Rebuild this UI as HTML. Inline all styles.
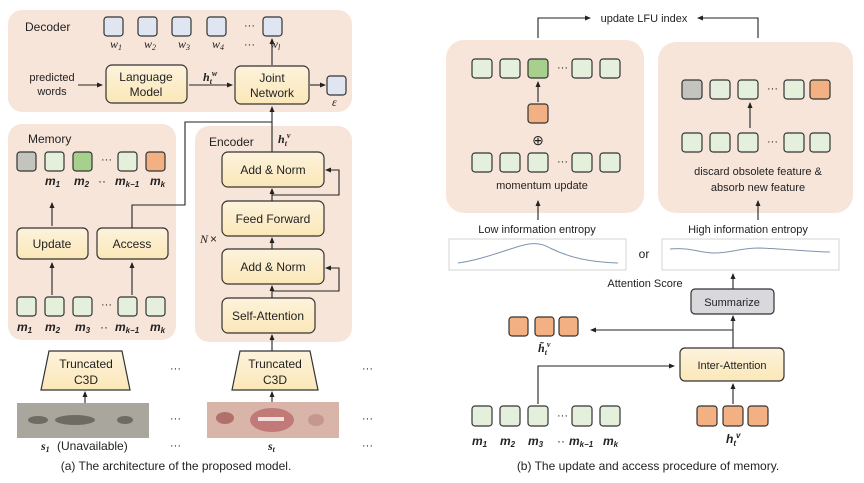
<!DOCTYPE html>
<html><head><meta charset="utf-8"><style>
html,body{margin:0;padding:0;background:#fff}
svg{display:block}
text{font-family:"Liberation Sans",sans-serif;fill:#222}
.s{font-size:11px}
.m{font-size:12px}
.i{font-family:"Liberation Serif",serif;font-style:italic;font-size:12px}
.b{font-family:"Liberation Serif",serif;font-style:italic;font-weight:bold;font-size:12px}
.bx{stroke:#333;stroke-width:1.2}
.ln{stroke:#222;stroke-width:1.1;fill:none}
</style></head><body>
<svg width="864" height="483" viewBox="0 0 864 483" xmlns="http://www.w3.org/2000/svg">
<defs>
<marker id="a" markerWidth="6" markerHeight="6" refX="5" refY="3" orient="auto" markerUnits="userSpaceOnUse"><path d="M0,0.5 L6,3 L0,5.5 z" fill="#222"/></marker>
<linearGradient id="y" x1="0" y1="0" x2="0" y2="1"><stop offset="0" stop-color="#fdf3dc"/><stop offset="1" stop-color="#fbe7b8"/></linearGradient>
</defs>
<!-- panels -->
<rect x="8" y="10" width="344" height="102" rx="14" fill="#f8e5da"/>
<rect x="8" y="124" width="168" height="216" rx="14" fill="#f8e5da"/>
<rect x="195" y="126" width="157" height="216" rx="14" fill="#f8e5da"/>
<rect x="446" y="40" width="198" height="173" rx="18" fill="#f8e5da"/>
<rect x="658" y="42" width="195" height="171" rx="18" fill="#f8e5da"/>

<!-- Decoder -->
<text x="25" y="31" class="m">Decoder</text>
<g fill="#dfe6f1" class="bx">
<rect x="104" y="17" width="19" height="19" rx="3"/><rect x="138" y="17" width="19" height="19" rx="3"/>
<rect x="172" y="17" width="19" height="19" rx="3"/><rect x="207" y="17" width="19" height="19" rx="3"/>
<rect x="263" y="17" width="19" height="19" rx="3"/><rect x="327" y="76" width="19" height="19" rx="3"/>
</g>
<text x="244" y="29" class="s">···</text>
<text x="110" y="48" class="i">w<tspan font-size="8" dy="2">1</tspan></text>
<text x="144" y="48" class="i">w<tspan font-size="8" dy="2">2</tspan></text>
<text x="178" y="48" class="i">w<tspan font-size="8" dy="2">3</tspan></text>
<text x="212" y="48" class="i">w<tspan font-size="8" dy="2">4</tspan></text>
<text x="244" y="48" class="s">···</text>
<text x="270" y="48" class="i">w<tspan font-size="8" dy="2">l</tspan></text>
<text x="332" y="106" class="i" font-size="10">ε</text>
<text x="52" y="81" class="s" text-anchor="middle">predicted</text>
<text x="52" y="95" class="s" text-anchor="middle">words</text>
<line x1="78" y1="85" x2="102" y2="85" class="ln" marker-end="url(#a)"/>
<rect x="106" y="65" width="81" height="38" rx="6" fill="url(#y)" class="bx"/>
<text x="146" y="81" class="m" text-anchor="middle">Language</text>
<text x="146" y="96" class="m" text-anchor="middle">Model</text>
<text x="203" y="81" class="b">h<tspan font-size="8" dy="3">t</tspan><tspan font-size="8" dy="-8">w</tspan></text>
<line x1="189" y1="85" x2="232" y2="85" class="ln" marker-end="url(#a)"/>
<rect x="235" y="66" width="74" height="38" rx="6" fill="url(#y)" class="bx"/>
<text x="272" y="82" class="m" text-anchor="middle">Joint</text>
<text x="272" y="97" class="m" text-anchor="middle">Network</text>
<line x1="272" y1="65" x2="272" y2="39" class="ln" marker-end="url(#a)"/>
<line x1="310" y1="85" x2="325" y2="85" class="ln" marker-end="url(#a)"/>

<!-- Memory -->
<text x="28" y="143" class="m">Memory</text>
<g class="bx">
<rect x="17" y="152" width="19" height="19" rx="3" fill="#c4c4be"/>
<rect x="45" y="152" width="19" height="19" rx="3" fill="#e4efdc"/>
<rect x="73" y="152" width="19" height="19" rx="3" fill="#a8d08d"/>
<rect x="118" y="152" width="19" height="19" rx="3" fill="#e4efdc"/>
<rect x="146" y="152" width="19" height="19" rx="3" fill="#f2b083"/>
<rect x="17" y="297" width="19" height="19" rx="3" fill="#e4efdc"/>
<rect x="45" y="297" width="19" height="19" rx="3" fill="#e4efdc"/>
<rect x="73" y="297" width="19" height="19" rx="3" fill="#e4efdc"/>
<rect x="118" y="297" width="19" height="19" rx="3" fill="#e4efdc"/>
<rect x="146" y="297" width="19" height="19" rx="3" fill="#e4efdc"/>
</g>
<text x="101" y="163" class="s">···</text>
<text x="101" y="308" class="s">···</text>
<g class="b">
<text x="45" y="185">m<tspan font-size="8" dy="2">1</tspan></text>
<text x="74" y="185">m<tspan font-size="8" dy="2">2</tspan></text>
<text x="98" y="185" font-style="normal" font-weight="normal">··</text>
<text x="115" y="185">m<tspan font-size="8" dy="2">k−1</tspan></text>
<text x="150" y="185">m<tspan font-size="8" dy="2">k</tspan></text>
<text x="17" y="331">m<tspan font-size="8" dy="2">1</tspan></text>
<text x="45" y="331">m<tspan font-size="8" dy="2">2</tspan></text>
<text x="75" y="331">m<tspan font-size="8" dy="2">3</tspan></text>
<text x="100" y="331" font-style="normal" font-weight="normal">··</text>
<text x="115" y="331">m<tspan font-size="8" dy="2">k−1</tspan></text>
<text x="150" y="331">m<tspan font-size="8" dy="2">k</tspan></text>
</g>
<line x1="52" y1="226" x2="52" y2="203" class="ln" marker-end="url(#a)"/>
<rect x="17" y="228" width="71" height="31" rx="5" fill="url(#y)" class="bx"/>
<rect x="97" y="228" width="71" height="31" rx="5" fill="url(#y)" class="bx"/>
<text x="52" y="248" class="m" text-anchor="middle">Update</text>
<text x="132" y="248" class="m" text-anchor="middle">Access</text>
<polyline points="132,228 132,205 185,205 185,122 272,122" class="ln"/>
<line x1="52" y1="295" x2="52" y2="263" class="ln" marker-end="url(#a)"/>
<line x1="132" y1="295" x2="132" y2="263" class="ln" marker-end="url(#a)"/>

<!-- Encoder -->
<text x="209" y="146" class="m">Encoder</text>
<text x="278" y="143" class="b">h<tspan font-size="8" dy="3">t</tspan><tspan font-size="8" dy="-8">v</tspan></text>
<line x1="272" y1="152" x2="272" y2="107" class="ln" marker-end="url(#a)"/>
<rect x="222" y="152" width="102" height="35" rx="6" fill="url(#y)" class="bx"/>
<text x="273" y="174" class="m" text-anchor="middle">Add &amp; Norm</text>
<rect x="222" y="201" width="102" height="35" rx="6" fill="url(#y)" class="bx"/>
<text x="273" y="223" class="m" text-anchor="middle">Feed Forward</text>
<rect x="222" y="249" width="102" height="35" rx="6" fill="url(#y)" class="bx"/>
<text x="273" y="271" class="m" text-anchor="middle">Add &amp; Norm</text>
<rect x="222" y="298" width="93" height="35" rx="6" fill="url(#y)" class="bx"/>
<text x="268" y="320" class="m" text-anchor="middle">Self-Attention</text>
<line x1="272" y1="201" x2="272" y2="189" class="ln" marker-end="url(#a)"/>
<line x1="272" y1="249" x2="272" y2="238" class="ln" marker-end="url(#a)"/>
<line x1="272" y1="298" x2="272" y2="286" class="ln" marker-end="url(#a)"/>
<polyline points="272,195 339,195 339,170 326,170" class="ln" marker-end="url(#a)"/>
<polyline points="272,291 339,291 339,268 326,268" class="ln" marker-end="url(#a)"/>
<text x="200" y="243" class="i">N</text><text x="210" y="243" class="m">×</text>

<!-- C3D -->
<polygon points="49,351 122,351 130,390 41,390" fill="url(#y)" class="bx"/>
<polygon points="240,351 310,351 318,390 232,390" fill="url(#y)" class="bx"/>
<text x="86" y="368" class="m" text-anchor="middle">Truncated</text>
<text x="86" y="384" class="m" text-anchor="middle">C3D</text>
<text x="275" y="368" class="m" text-anchor="middle">Truncated</text>
<text x="275" y="384" class="m" text-anchor="middle">C3D</text>
<line x1="272" y1="351" x2="272" y2="335" class="ln" marker-end="url(#a)"/>
<line x1="85" y1="403" x2="85" y2="392" class="ln" marker-end="url(#a)"/>
<line x1="272" y1="402" x2="272" y2="392" class="ln" marker-end="url(#a)"/>
<rect x="17" y="403" width="132" height="35" fill="#a9a79d"/>
<ellipse cx="38" cy="420" rx="10" ry="4" fill="#6d6b62"/>
<ellipse cx="75" cy="420" rx="20" ry="5" fill="#6d6b62"/>
<ellipse cx="125" cy="420" rx="8" ry="4" fill="#6d6b62"/>
<rect x="207" y="402" width="132" height="36" fill="#d8b5a8"/>
<ellipse cx="225" cy="418" rx="9" ry="6" fill="#b2706a"/>
<ellipse cx="272" cy="420" rx="22" ry="12" fill="#c27a78"/>
<rect x="258" y="417" width="26" height="4" fill="#f0e0dc"/>
<ellipse cx="316" cy="420" rx="8" ry="6" fill="#c59790"/>
<text x="41" y="450" class="b">s<tspan font-size="8" dy="2">1</tspan></text>
<text x="57" y="450" class="m">(Unavailable)</text>
<text x="268" y="450" class="b">s<tspan font-size="8" dy="2">t</tspan></text>
<g class="s"><text x="170" y="372">···</text><text x="170" y="422">···</text><text x="170" y="449">···</text>
<text x="362" y="372">···</text><text x="362" y="422">···</text><text x="362" y="449">···</text></g>
<text x="176" y="470" class="m" text-anchor="middle">(a) The architecture of the proposed model.</text>

<!-- Right -->
<text x="644" y="22" class="s" text-anchor="middle">update LFU index</text>
<polyline points="538,38 538,18 590,18" class="ln" marker-end="url(#a)"/>
<polyline points="758,38 758,18 698,18" class="ln" marker-end="url(#a)"/>
<g class="bx" fill="#e4efdc">
<rect x="472" y="59" width="20" height="19" rx="3"/><rect x="500" y="59" width="20" height="19" rx="3"/>
<rect x="528" y="59" width="20" height="19" rx="3" fill="#a8d08d"/>
<rect x="572" y="59" width="20" height="19" rx="3"/><rect x="600" y="59" width="20" height="19" rx="3"/>
<rect x="528" y="104" width="20" height="19" rx="3" fill="#f2b083"/>
<rect x="472" y="153" width="20" height="19" rx="3"/><rect x="500" y="153" width="20" height="19" rx="3"/>
<rect x="528" y="153" width="20" height="19" rx="3"/>
<rect x="572" y="153" width="20" height="19" rx="3"/><rect x="600" y="153" width="20" height="19" rx="3"/>
<rect x="682" y="80" width="20" height="19" rx="3" fill="#c4c4be"/><rect x="710" y="80" width="20" height="19" rx="3"/>
<rect x="738" y="80" width="20" height="19" rx="3"/><rect x="784" y="80" width="20" height="19" rx="3"/>
<rect x="810" y="80" width="20" height="19" rx="3" fill="#f2b083"/>
<rect x="682" y="133" width="20" height="19" rx="3"/><rect x="710" y="133" width="20" height="19" rx="3"/>
<rect x="738" y="133" width="20" height="19" rx="3"/><rect x="784" y="133" width="20" height="19" rx="3"/>
<rect x="810" y="133" width="20" height="19" rx="3"/>
<rect x="472" y="406" width="20" height="20" rx="3"/><rect x="500" y="406" width="20" height="20" rx="3"/>
<rect x="528" y="406" width="20" height="20" rx="3"/><rect x="572" y="406" width="20" height="20" rx="3"/>
<rect x="600" y="406" width="20" height="20" rx="3"/>
<rect x="509" y="317" width="19" height="19" rx="3" fill="#f2b083"/><rect x="535" y="317" width="19" height="19" rx="3" fill="#f2b083"/>
<rect x="559" y="317" width="19" height="19" rx="3" fill="#f2b083"/>
<rect x="697" y="406" width="20" height="20" rx="3" fill="#f2b083"/><rect x="723" y="406" width="20" height="20" rx="3" fill="#f2b083"/>
<rect x="748" y="406" width="20" height="20" rx="3" fill="#f2b083"/>
</g>
<g class="s"><text x="557" y="71">···</text><text x="557" y="165">···</text><text x="767" y="92">···</text><text x="767" y="145">···</text><text x="557" y="419">···</text></g>
<line x1="538" y1="102" x2="538" y2="82" class="ln" marker-end="url(#a)"/>
<line x1="750" y1="128" x2="750" y2="103" class="ln" marker-end="url(#a)"/>
<text x="538" y="145" font-size="14" text-anchor="middle">⊕</text>
<text x="542" y="189" class="s" text-anchor="middle">momentum update</text>
<text x="758" y="175" class="s" text-anchor="middle">discard obsolete feature &amp;</text>
<text x="758" y="191" class="s" text-anchor="middle">absorb new feature</text>
<line x1="538" y1="220" x2="538" y2="201" class="ln" marker-end="url(#a)"/>
<line x1="758" y1="220" x2="758" y2="201" class="ln" marker-end="url(#a)"/>
<text x="537" y="233" class="s" text-anchor="middle">Low information entropy</text>
<text x="748" y="233" class="s" text-anchor="middle">High information entropy</text>
<rect x="449" y="239" width="177" height="31" fill="#fff" stroke="#ccc" stroke-width="0.8"/>
<rect x="662" y="239" width="177" height="31" fill="#fff" stroke="#ccc" stroke-width="0.8"/>
<path d="M458,263 C480,260 500,252 520,246 C530,243 540,242 550,248 C570,258 590,262 618,263" fill="none" stroke="#7d94b0" stroke-width="1"/>
<path d="M670,249 C690,247 700,253 714,253 C730,253 740,248 760,248 C790,249 810,252 830,252" fill="none" stroke="#7d94b0" stroke-width="1"/>
<text x="644" y="258" class="m" text-anchor="middle">or</text>
<text x="645" y="287" class="s" text-anchor="middle">Attention Score</text>
<line x1="733" y1="289" x2="733" y2="274" class="ln" marker-end="url(#a)"/>
<rect x="691" y="289" width="83" height="25" rx="4" fill="#d9d9dd" class="bx"/>
<text x="732" y="306" class="s" text-anchor="middle">Summarize</text>
<line x1="733" y1="348" x2="733" y2="316" class="ln" marker-end="url(#a)"/>
<line x1="733" y1="330" x2="591" y2="330" class="ln" marker-end="url(#a)"/>
<text x="538" y="352" class="b">h̃<tspan font-size="8" dy="3">t</tspan><tspan font-size="8" dy="-8">v</tspan></text>
<rect x="680" y="348" width="104" height="33" rx="5" fill="url(#y)" class="bx"/>
<text x="732" y="369" class="s" text-anchor="middle">Inter-Attention</text>
<polyline points="538,404 538,366 674,366" class="ln" marker-end="url(#a)"/>
<line x1="733" y1="404" x2="733" y2="384" class="ln" marker-end="url(#a)"/>
<g class="b">
<text x="472" y="445">m<tspan font-size="8" dy="2">1</tspan></text>
<text x="500" y="445">m<tspan font-size="8" dy="2">2</tspan></text>
<text x="528" y="445">m<tspan font-size="8" dy="2">3</tspan></text>
<text x="557" y="445" font-style="normal" font-weight="normal">··</text>
<text x="569" y="445">m<tspan font-size="8" dy="2">k−1</tspan></text>
<text x="603" y="445">m<tspan font-size="8" dy="2">k</tspan></text>
<text x="726" y="443">h<tspan font-size="8" dy="3">t</tspan><tspan font-size="8" dy="-8">v</tspan></text>
</g>
<text x="648" y="470" class="m" text-anchor="middle">(b) The update and access procedure of memory.</text>
</svg>
</body></html>
